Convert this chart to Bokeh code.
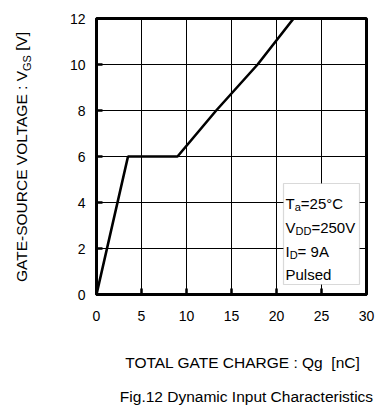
from bokeh.plotting import figure
from bokeh.models import Range1d, FixedTicker, Label, BoxAnnotation, Div
from bokeh.layouts import column, row
from bokeh.embed import file_html
from bokeh.resources import INLINE

# ---- data ----
qg_nc = [0.0, 3.5, 9.0, 13.3, 17.9, 21.9]
vgs_v = [0.0, 6.0, 6.0, 8.0, 10.0, 12.0]
x_ticks = [0, 5, 10, 15, 20, 25, 30]
y_ticks = [0, 2, 4, 6, 8, 10, 12]

FONT = "Liberation Sans"
PAGE_W = 377
YT_W = 36                      # width of the y-title strip
FRAME_L, FRAME_T = 96, 18      # page position of plot frame
FW, FH = 270, 276
FIG_W = PAGE_W - YT_W
ML = FRAME_L - YT_W
MR = FIG_W - ML - FW
MT = FRAME_T
MB = 40
FIG_H = MT + FH + MB
X0, X1, Y0, Y1 = 0, 30, 0, 12

p = figure(width=FIG_W, height=FIG_H, output_backend="svg", toolbar_location=None,
           x_range=Range1d(X0, X1), y_range=Range1d(Y0, Y1),
           min_border_left=ML, min_border_right=MR, min_border_top=MT,
           min_border_bottom=MB, margin=0)
p.background_fill_color = "white"
p.border_fill_color = "white"
p.outline_line_color = "black"
p.outline_line_width = 3

for ax, ticks in ((p.xaxis[0], x_ticks), (p.yaxis[0], y_ticks)):
    ax.ticker = FixedTicker(ticks=ticks)
    ax.axis_line_color = "black"
    ax.axis_line_width = 3
    ax.major_tick_in = 6
    ax.major_tick_out = 0
    ax.major_tick_line_width = 2.5
    ax.minor_tick_line_color = None
    ax.major_label_text_font = FONT
    ax.major_label_text_font_size = "14px"
    ax.major_label_text_color = "black"
p.xaxis.major_label_standoff = 16
p.yaxis.major_label_standoff = 11

for g, ticks in ((p.xgrid[0], x_ticks), (p.ygrid[0], y_ticks)):
    g.ticker = FixedTicker(ticks=ticks)
    g.grid_line_color = "black"
    g.grid_line_width = 1
    g.grid_line_alpha = 1.0

p.line(qg_nc, vgs_v, line_color="black", line_width=2.6)

# page pixel -> data helpers
def px2x(px):
    return X0 + (px - FRAME_L) / FW * (X1 - X0)

def px2y(py):
    return Y0 + (FRAME_T + FH - py) / FH * (Y1 - Y0)

def lab(text, px, py, size):
    p.add_layout(Label(x=px2x(px), y=px2y(py), text=text,
                       text_font=FONT, text_font_size=f"{size}px",
                       text_color="black", text_align="left",
                       text_baseline="alphabetic"))

def w(text, size):
    widths = {" ": 278, "=": 584, "°": 400, "C": 722, "D": 722, "I": 278,
              "T": 611, "V": 667, "a": 556}
    return sum(widths.get(c, 556) for c in text) * size / 1000.0

# legend box
p.add_layout(BoxAnnotation(left=px2x(283), right=px2x(359), top=px2y(183), bottom=px2y(284),
                           fill_color="white", fill_alpha=1.0,
                           line_color="#808080", line_width=1.2))
F, f, SUB = 15, 11, 3.5
lx = 285
lab("T", lx, 203.3, F)
lab("a", lx + w("T", F), 203.3 + SUB, f)
lab("=25°C", lx + w("T", F) + w("a", f), 203.3, F)
lab("V", lx, 227.3, F)
lab("DD", lx + w("V", F), 227.3 + SUB, f)
lab("=250V", lx + w("V", F) + w("DD", f), 227.3, F)
lab("I", lx, 251.3, F)
lab("D", lx + w("I", F), 251.3 + SUB, f)
lab("= 9A", lx + w("I", F) + w("D", f), 251.3, F)
lab("Pulsed", lx, 274.3, F)

# ---- titles (HTML text so subscripts stay real text) ----
TS = 15.5
base = f"font-family:'{FONT}';font-size:{TS}px;line-height:{TS}px;color:black;white-space:nowrap;"
sub = "font-size:11px;position:relative;top:3.5px;"

y_title = Div(width=YT_W, height=FIG_H, margin=0, text=(
    f"<div style=\"{base}position:absolute;left:0;top:0;transform-origin:0 0;"
    f"transform:translate(13.5px,282px) rotate(-90deg);\">"
    f"GATE-SOURCE VOLTAGE : V<span style=\"{sub}\">GS</span> [V]</div>"))

XT_H = 40
x_title = Div(width=PAGE_W, height=XT_H, margin=0, text=(
    f"<div style=\"{base}margin:0;margin-left:108px;width:269px;text-align:center;"
    f"padding-top:21px;\">TOTAL GATE CHARGE : Qg&nbsp; [nC]</div>"))

CAP_H = 405 - FIG_H - XT_H
caption = Div(width=PAGE_W, height=CAP_H, margin=0, text=(
    f"<div style=\"{base}margin:0;margin-left:116px;width:261px;text-align:center;"
    f"padding-top:15px;\">Fig.12 Dynamic Input Characteristics</div>"))

page = column(row(y_title, p, spacing=0), x_title, caption, spacing=0)

open("out.html", "w").write(file_html(page, INLINE))
